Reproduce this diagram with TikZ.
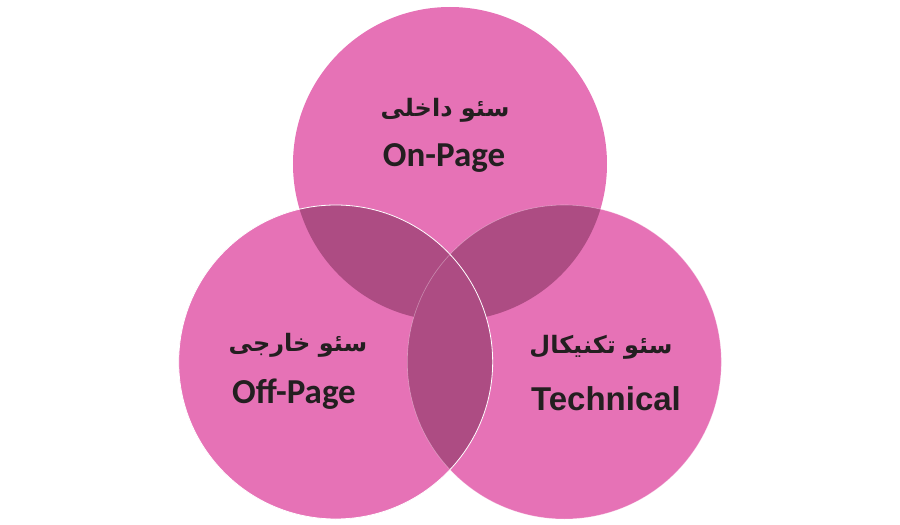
\documentclass[tikz,border=0pt]{standalone}
\usepackage{fontspec}
\usepackage{xcolor}
\usepackage{tikz}
\newfontfamily\arabicfont[Script=Arabic]{DejaVu Sans}
\newfontfamily\pagefont{Carlito}
\newfontfamily\techfont{Liberation Sans}
\TeXXeTstate=1
\definecolor{venpink}{HTML}{E672B6}
\definecolor{venoverlap}{HTML}{AD4C83}
\definecolor{ventext}{HTML}{231F20}

\begin{document}
\begin{tikzpicture}[x=1pt,y=1pt,
    falabel/.style={text=ventext,font=\arabicfont\bfseries\fontsize{24}{28}\selectfont},
    pagelabel/.style={text=ventext,anchor=base,font=\pagefont\bfseries\fontsize{35}{40}\selectfont},
    techlabel/.style={text=ventext,anchor=base,font=\techfont\bfseries\fontsize{33}{38}\selectfont}]
    \useasboundingbox (-450,-229) rectangle (450,296);
    \foreach \a/\n in {90/onpage,210/offpage,330/tech}{
      \coordinate (\n) at (\a:132);
      \fill[venpink] (\n) circle (157);
    };
    \foreach \p/\q in {onpage/offpage,onpage/tech,offpage/tech}{
      \begin{scope}
        \clip (\p) circle (157);
        \fill[venoverlap] (\q) circle (157);
      \end{scope}
    };
    % only the lower circles show a thin rim
    \draw[white,line width=0.6pt,opacity=0.35] (tech) circle (157);
    \draw[white,line width=0.8pt] (offpage) circle (157);
    \node[falabel] (onpagefa) at (-5,186) {\beginR سئو داخلی\endR};
    \node[pagelabel] (onpagelabel) at (-6,129) {On-Page};
    \node[falabel] (offpagefa) at (-152,-49.5) {\beginR سئو خارجی\endR};
    \node[pagelabel] (offpagelabel) at (-156,-107) {Off-Page};
    \node[falabel] (techfa) at (151,-51.5) {\beginR سئو تکنیکال\endR};
    \node[techlabel] (techlabel) at (156,-114) {Technical};
\end{tikzpicture}
\end{document}
